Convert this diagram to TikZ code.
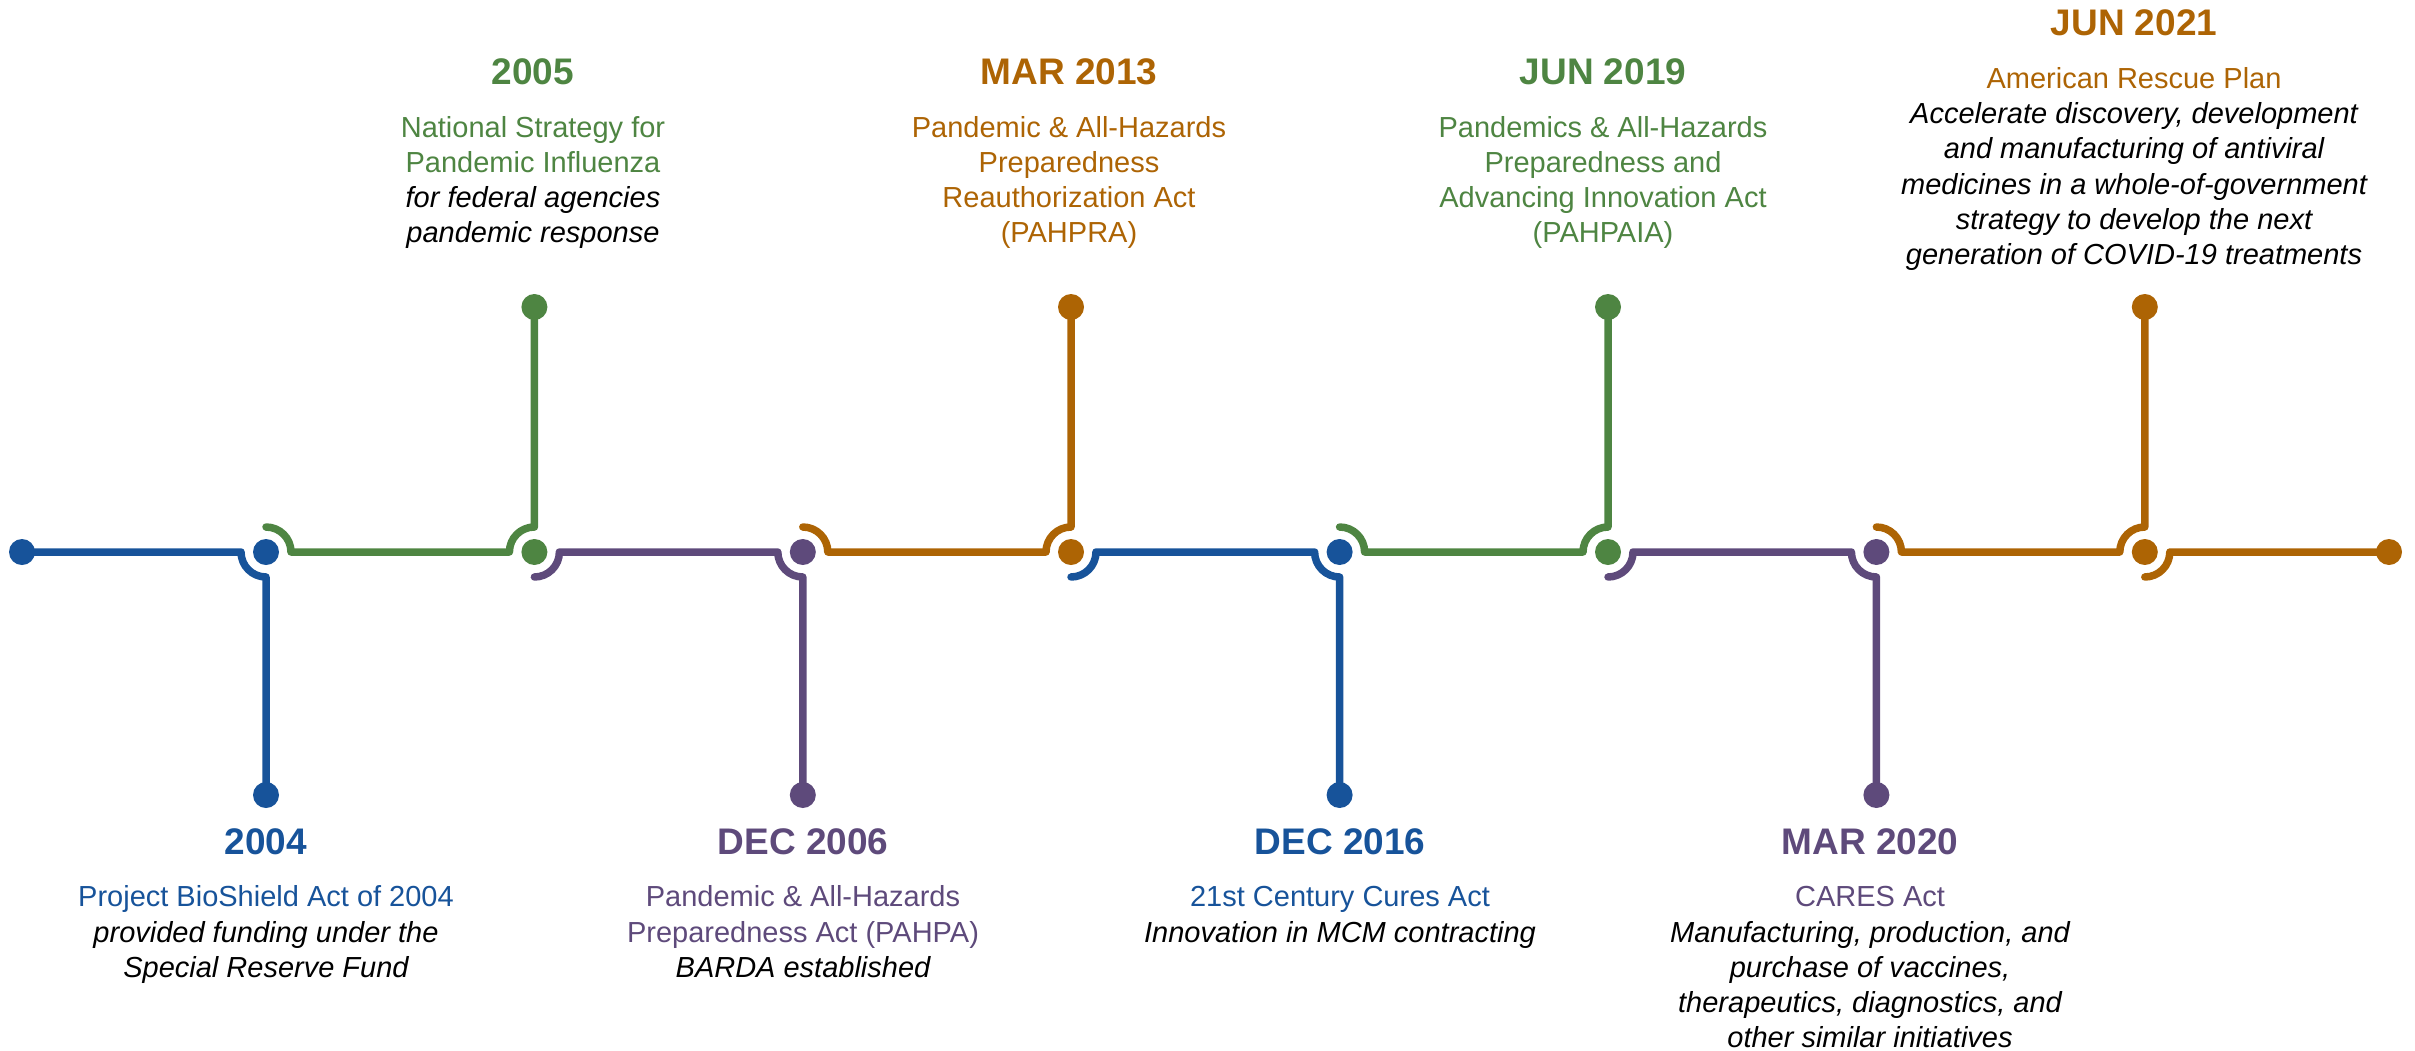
\documentclass[tikz,border=0pt]{standalone}
\usepackage{fontspec}
\setmainfont{Liberation Sans}
\definecolor{cblue}{HTML}{17539A}
\definecolor{cgreen}{HTML}{4E8542}
\definecolor{cpurple}{HTML}{5E4A7B}
\definecolor{corange}{HTML}{AD6404}
\newcommand\blk[1]{{\color{black}\itshape #1}}
\begin{document}
\begin{tikzpicture}[x=1pt,y=-1pt,
  dot/.style={circle,fill=#1,minimum size=26pt,inner sep=0pt,outer sep=0pt},
  tl/.style={line width=7.5pt,line cap=round,line join=round,draw=#1},
  datelbl/.style={font=\fontsize{37}{44}\selectfont\bfseries,anchor=base,inner sep=0pt,text=#1},
  bodylbl/.style={font=\fontsize{29}{35.3}\selectfont,align=center,anchor=base,inner sep=0pt,text=#1}]
\useasboundingbox (0,0) rectangle (2415,1050);
% main line dots
\node[dot=cblue]   (m0) at (22,552) {};
\node[dot=cblue]   (m1) at (266,552) {};
\node[dot=cgreen]  (m2) at (534.4,552) {};
\node[dot=cpurple] (m3) at (802.8,552) {};
\node[dot=corange] (m4) at (1071,552) {};
\node[dot=cblue]   (m5) at (1339.6,552) {};
\node[dot=cgreen]  (m6) at (1608,552) {};
\node[dot=cpurple] (m7) at (1876.4,552) {};
\node[dot=corange] (m8) at (2144.8,552) {};
\node[dot=corange] (m9) at (2389,552) {};
% event dots
\node[dot=cblue]   (e1) at (266,795) {};
\node[dot=cgreen]  (e2) at (534.4,307) {};
\node[dot=cpurple] (e3) at (802.8,795) {};
\node[dot=corange] (e4) at (1071,307) {};
\node[dot=cblue]   (e5) at (1339.6,795) {};
\node[dot=cgreen]  (e6) at (1608,307) {};
\node[dot=cpurple] (e7) at (1876.4,795) {};
\node[dot=corange] (e8) at (2144.8,307) {};
% connectors
\draw[tl=cblue] (m0.center) -- ([xshift=-25pt]m1.center) arc[start angle=180,end angle=270,radius=25pt] -- (e1.center);
\draw[tl=cgreen] ([yshift=25pt]m1.center) arc[start angle=90,end angle=0,radius=25pt] -- ([xshift=-25pt]m2.center) arc[start angle=180,end angle=90,radius=25pt] -- (e2.center);
\draw[tl=cpurple] ([yshift=-25pt]m2.center) arc[start angle=270,end angle=360,radius=25pt] -- ([xshift=-25pt]m3.center) arc[start angle=180,end angle=270,radius=25pt] -- (e3.center);
\draw[tl=corange] ([yshift=25pt]m3.center) arc[start angle=90,end angle=0,radius=25pt] -- ([xshift=-25pt]m4.center) arc[start angle=180,end angle=90,radius=25pt] -- (e4.center);
\draw[tl=cblue] ([yshift=-25pt]m4.center) arc[start angle=270,end angle=360,radius=25pt] -- ([xshift=-25pt]m5.center) arc[start angle=180,end angle=270,radius=25pt] -- (e5.center);
\draw[tl=cgreen] ([yshift=25pt]m5.center) arc[start angle=90,end angle=0,radius=25pt] -- ([xshift=-25pt]m6.center) arc[start angle=180,end angle=90,radius=25pt] -- (e6.center);
\draw[tl=cpurple] ([yshift=-25pt]m6.center) arc[start angle=270,end angle=360,radius=25pt] -- ([xshift=-25pt]m7.center) arc[start angle=180,end angle=270,radius=25pt] -- (e7.center);
\draw[tl=corange] ([yshift=25pt]m7.center) arc[start angle=90,end angle=0,radius=25pt] -- ([xshift=-25pt]m8.center) arc[start angle=180,end angle=90,radius=25pt] -- (e8.center);
\draw[tl=corange] ([yshift=-25pt]m8.center) arc[start angle=270,end angle=360,radius=25pt] -- (m9.center);
% bottom labels (body anchored at baseline of last line)
\node[datelbl=cblue] (d1) at (266,854) {2004};
\node[bodylbl=cblue] (t1) at (266,977.3) {Project BioShield Act of 2004\\\blk{provided funding under the}\\\blk{Special Reserve Fund}};
\node[datelbl=cpurple] (d3) at (803,854) {DEC 2006};
\node[bodylbl=cpurple] (t3) at (803,977.3) {Pandemic \& All-Hazards\\Preparedness Act (PAHPA)\\\blk{BARDA established}};
\node[datelbl=cblue] (d5) at (1340,854) {DEC 2016};
\node[bodylbl=cblue] (t5) at (1340,942) {21st Century Cures Act\\\blk{Innovation in MCM contracting}};
\node[datelbl=cpurple] (d7) at (1870,854) {MAR 2020};
\node[bodylbl=cpurple] (t7) at (1870,1047.9) {CARES Act\\\blk{Manufacturing, production, and}\\\blk{purchase of vaccines,}\\\blk{therapeutics, diagnostics, and}\\\blk{other similar initiatives}};
% top labels
\node[datelbl=cgreen] (d2) at (533,84) {2005};
\node[bodylbl=cgreen] (t2) at (533,242.9) {National Strategy for\\Pandemic Influenza\\\blk{for federal agencies}\\\blk{pandemic response}};
\node[datelbl=corange] (d4) at (1069,84) {MAR 2013};
\node[bodylbl=corange] (t4) at (1069,242.9) {Pandemic \& All-Hazards\\Preparedness\\Reauthorization Act\\(PAHPRA)};
\node[datelbl=cgreen] (d6) at (1603,84) {JUN 2019};
\node[bodylbl=cgreen] (t6) at (1603,242.9) {Pandemics \& All-Hazards\\Preparedness and\\Advancing Innovation Act\\(PAHPAIA)};
\node[datelbl=corange] (d8) at (2134,35) {JUN 2021};
\node[bodylbl=corange] (t8) at (2134,264.8) {American Rescue Plan\\\blk{Accelerate discovery, development}\\\blk{and manufacturing of antiviral}\\\blk{medicines in a whole-of-government}\\\blk{strategy to develop the next}\\\blk{generation of COVID-19 treatments}};
\end{tikzpicture}
\end{document}
